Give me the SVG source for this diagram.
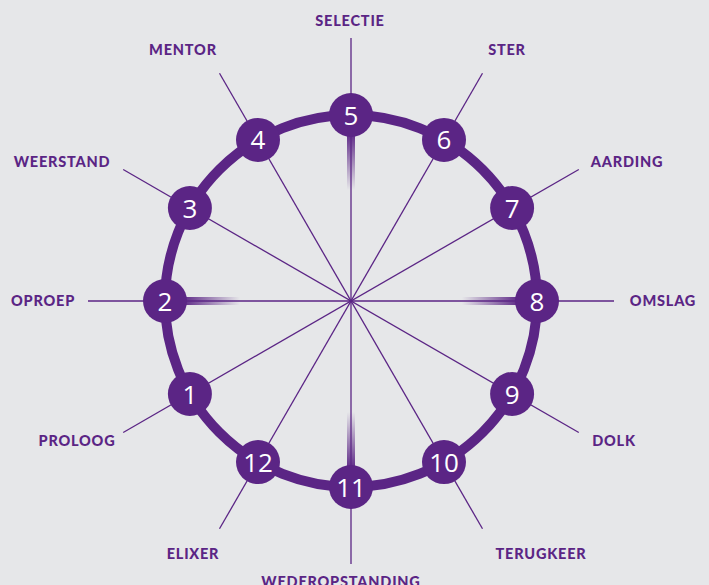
<svg xmlns="http://www.w3.org/2000/svg" width="709" height="585" viewBox="0 0 709 585">
<defs>
<style>
.spoke{stroke:#5b2585;stroke-width:1.3;fill:none}
.ring{stroke:#5b2585;stroke-width:10;fill:none}
.node circle{fill:#5b2585}
.node text{fill:#ffffff;font-family:"Open Sans","Lato",sans-serif;font-size:26px;font-weight:500;text-anchor:middle}
.lbl{fill:#5b2585;font-family:"Lato","Open Sans",sans-serif;font-size:14.5px;font-weight:900;text-anchor:middle;letter-spacing:0.8px}
</style>
<linearGradient id="gDown" x1="0" y1="0" x2="0" y2="1">
<stop offset="0" stop-color="#5b2585" stop-opacity="1"/>
<stop offset="1" stop-color="#5b2585" stop-opacity="0"/>
</linearGradient>
<linearGradient id="gUp" x1="0" y1="1" x2="0" y2="0">
<stop offset="0" stop-color="#5b2585" stop-opacity="1"/>
<stop offset="1" stop-color="#5b2585" stop-opacity="0"/>
</linearGradient>
<linearGradient id="gRight" x1="0" y1="0" x2="1" y2="0">
<stop offset="0" stop-color="#5b2585" stop-opacity="1"/>
<stop offset="1" stop-color="#5b2585" stop-opacity="0"/>
</linearGradient>
<linearGradient id="gLeft" x1="1" y1="0" x2="0" y2="0">
<stop offset="0" stop-color="#5b2585" stop-opacity="1"/>
<stop offset="1" stop-color="#5b2585" stop-opacity="0"/>
</linearGradient>
</defs>
<rect width="709" height="585" fill="#e6e7e9"/>
<g id="connectors">
<line class="spoke" x1="351" y1="38" x2="351" y2="564"/>
<line class="spoke" x1="482.5" y1="73.2" x2="219.5" y2="528.8"/>
<line class="spoke" x1="578.8" y1="169.5" x2="123.2" y2="432.5"/>
<line class="spoke" x1="614" y1="301" x2="88" y2="301"/>
<line class="spoke" x1="578.8" y1="432.5" x2="123.2" y2="169.5"/>
<line class="spoke" x1="482.5" y1="528.8" x2="219.5" y2="73.2"/>
<rect x="347" y="132" width="8" height="58" fill="url(#gDown)"/>
<rect x="347" y="412" width="8" height="58" fill="url(#gUp)"/>
<rect x="182" y="297" width="58" height="8" fill="url(#gRight)"/>
<rect x="462" y="297" width="58" height="8" fill="url(#gLeft)"/>
<circle class="ring" cx="351" cy="301" r="186"/>
</g>
<g id="n5" class="node"><circle cx="351" cy="115" r="22"/><text x="351" y="124.5">5</text></g>
<g id="n6" class="node"><circle cx="444" cy="139.9" r="22"/><text x="444" y="149.4">6</text></g>
<g id="n7" class="node"><circle cx="512.1" cy="208" r="22"/><text x="512.1" y="217.5">7</text></g>
<g id="n8" class="node"><circle cx="537" cy="301" r="22"/><text x="537" y="310.5">8</text></g>
<g id="n9" class="node"><circle cx="512.1" cy="394" r="22"/><text x="512.1" y="403.5">9</text></g>
<g id="n10" class="node"><circle cx="444" cy="462.1" r="22"/><text x="444" y="471.6">10</text></g>
<g id="n11" class="node"><circle cx="351" cy="487" r="22"/><text x="351" y="496.5">11</text></g>
<g id="n12" class="node"><circle cx="258" cy="462.1" r="22"/><text x="258" y="471.6">12</text></g>
<g id="n1" class="node"><circle cx="189.9" cy="394" r="22"/><text x="189.9" y="403.5">1</text></g>
<g id="n2" class="node"><circle cx="165" cy="301" r="22"/><text x="165" y="310.5">2</text></g>
<g id="n3" class="node"><circle cx="189.9" cy="208" r="22"/><text x="189.9" y="217.5">3</text></g>
<g id="n4" class="node"><circle cx="258" cy="139.9" r="22"/><text x="258" y="149.4">4</text></g>
<g id="labels">
<text class="lbl" x="350" y="26">SELECTIE</text>
<text class="lbl" x="183" y="55">MENTOR</text>
<text class="lbl" x="507" y="55">STER</text>
<text class="lbl" x="62" y="167">WEERSTAND</text>
<text class="lbl" x="627" y="167">AARDING</text>
<text class="lbl" x="43" y="306">OPROEP</text>
<text class="lbl" x="663" y="306">OMSLAG</text>
<text class="lbl" x="77" y="446">PROLOOG</text>
<text class="lbl" x="614" y="446">DOLK</text>
<text class="lbl" x="193" y="559">ELIXER</text>
<text class="lbl" x="541" y="559">TERUGKEER</text>
<text class="lbl" x="341" y="587">WEDEROPSTANDING</text>
</g>
</svg>
